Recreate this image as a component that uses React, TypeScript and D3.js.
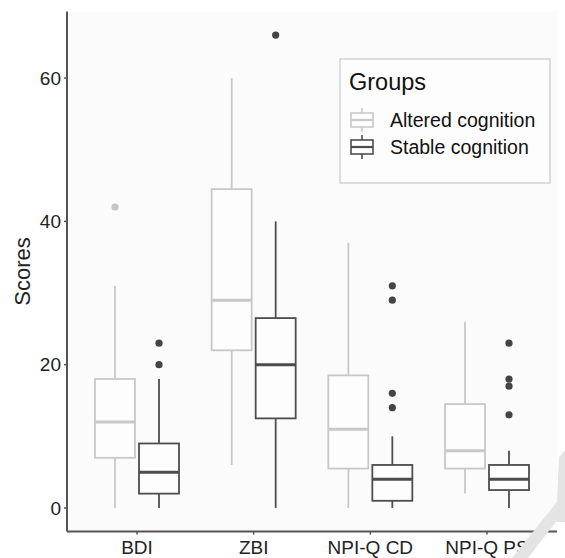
import React from 'react';
import * as d3 from 'd3';

const categories = ['BDI', 'ZBI', 'NPI-Q CD', 'NPI-Q PS'];
const groups = ['Altered cognition', 'Stable cognition'];

// [lower whisker, Q1, median, Q3, upper whisker]
const alteredStats = [
  [0, 7, 12, 18, 31],
  [6, 22, 29, 44.5, 60],
  [0, 5.5, 11, 18.5, 37],
  [2, 5.5, 8, 14.5, 26],
];
const stableStats = [
  [0, 2, 5, 9, 18],
  [0, 12.5, 20, 26.5, 40],
  [0, 1, 4, 6, 10],
  [0, 2.5, 4, 6, 8],
];
const alteredOutliers = [[42], [], [], []];
const stableOutliers = [[20, 23], [66], [14, 16, 29, 31], [13, 17, 18, 23]];

const yTicks = [0, 20, 40, 60];

const colors = { 'Altered cognition': '#c8c8c8', 'Stable cognition': '#4d4d4d' };
const dotColors = { 'Altered cognition': '#c4c4c4', 'Stable cognition': '#444444' };

const font = 'Liberation Sans, Arial, sans-serif';

export default function App() {
  const width = 565;
  const height = 558;
  const left = 67;
  const right = 557;
  const top = 11.4;
  const bottom = 531.6;

  const x = d3.scalePoint().domain(categories).range([left, right]).padding(0.6);
  const dodge = d3.scaleBand().domain(groups).range([-44, 44]);
  const boxW = 40;
  const y = d3.scaleLinear().domain([-3.3, 69.3]).range([bottom, top]);

  const rows = groups.flatMap((g, gi) =>
    categories.map((c, ci) => {
      const s = gi === 0 ? alteredStats[ci] : stableStats[ci];
      const out = gi === 0 ? alteredOutliers[ci] : stableOutliers[ci];
      return { group: g, category: c, lo: s[0], q1: s[1], med: s[2], q3: s[3], hi: s[4], out };
    })
  );

  const keyY = [120, 147];

  return (
    <svg width={width} height={height} style={{ position: 'absolute', left: 0, top: 0, background: '#fff' }}
      fontFamily={font}>
      <rect x={left} y={top} width={right - left} height={bottom - top} fill="#fbfbfb" />

      <g key="boxes">
        {rows.map((d) => {
          const cx = x(d.category) + dodge(d.group) + dodge.bandwidth() / 2;
          const col = colors[d.group];
          return (
            <g key={`${d.group}-${d.category}`} stroke={col} fill="none">
              <line x1={cx} x2={cx} y1={y(d.q3)} y2={y(d.hi)} strokeWidth={1.8} />
              <line x1={cx} x2={cx} y1={y(d.q1)} y2={y(d.lo)} strokeWidth={1.8} />
              <rect x={cx - boxW / 2} y={y(d.q3)} width={boxW} height={y(d.q1) - y(d.q3)}
                fill="#fdfdfd" strokeWidth={1.8} />
              <line x1={cx - boxW / 2} x2={cx + boxW / 2} y1={y(d.med)} y2={y(d.med)} strokeWidth={3} />
              {d.out.map((v) => (
                <circle key={v} cx={cx} cy={y(v)} r={3.6} fill={dotColors[d.group]} stroke="none" />
              ))}
            </g>
          );
        })}
      </g>

      <g key="y-axis" fill="#222" fontSize={19}>
        <line x1={left} x2={left} y1={top} y2={bottom} stroke="#555" strokeWidth={2} />
        {yTicks.map((t) => (
          <g key={t}>
            <line x1={left - 3} x2={left} y1={y(t)} y2={y(t)} stroke="#555" strokeWidth={1.5} />
            <text x={left - 6} y={y(t)} dy="0.36em" textAnchor="end">{t}</text>
          </g>
        ))}
        <text transform={`translate(30,${(top + bottom) / 2}) rotate(-90)`} textAnchor="middle" fontSize={22}>
          Scores
        </text>
      </g>

      <g key="x-axis" fill="#222" fontSize={19}>
        <line x1={left} x2={right} y1={bottom} y2={bottom} stroke="#555" strokeWidth={2} />
        {categories.map((c) => (
          <g key={c}>
            <line x1={x(c)} x2={x(c)} y1={bottom} y2={bottom + 3} stroke="#555" strokeWidth={1.5} />
            <text x={x(c)} y={554} textAnchor="middle">{c}</text>
          </g>
        ))}
      </g>

      <g key="legend">
        <rect x={340} y={59} width={210} height={124} fill="#fdfdfd" stroke="#c8c8c8" strokeWidth={1.2} />
        <text x={349} y={90} fontSize={23.5} fill="#111">Groups</text>
        {groups.map((g, i) => {
          const cy = keyY[i];
          const col = colors[g];
          return (
            <g key={g}>
              <g stroke={col} fill="none" strokeWidth={1.6}>
                <line x1={362} x2={362} y1={cy - 12} y2={cy - 7} />
                <line x1={362} x2={362} y1={cy + 7} y2={cy + 12} />
                <rect x={351} y={cy - 7} width={22} height={14} />
                <line x1={351} x2={373} y1={cy} y2={cy} strokeWidth={2.2} />
              </g>
              <text x={390} y={cy} dy="0.35em" fontSize={19.5} fill="#111">{g}</text>
            </g>
          );
        })}
      </g>

      <g key="watermark" fill="#e4e4e4">
        <polygon points="512,558 528,558 565,510 565,492" />
        <polygon points="559,457 565,450 565,522 556,522" />
      </g>
    </svg>
  );
}
